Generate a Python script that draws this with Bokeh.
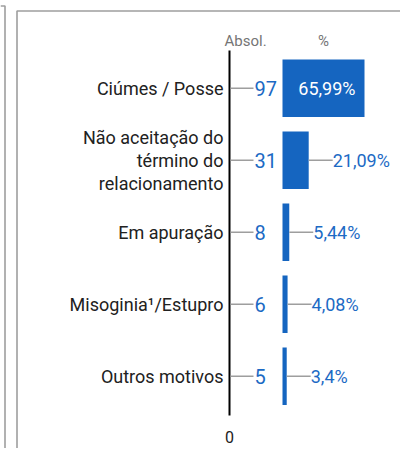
from bokeh.plotting import figure
from bokeh.models import Range1d, ColumnDataSource
from bokeh.core.properties import value
from bokeh.embed import file_html
from bokeh.resources import INLINE

# ---- data ----
categories = ["Ciúmes / Posse", "Não aceitação do\ntérmino do\nrelacionamento",
              "Em apuração", "Misoginia¹/Estupro", "Outros motivos"]
absolute = [97, 31, 8, 6, 5]
percent = [65.99, 21.09, 5.44, 4.08, 3.4]
header_abs = "Absol."
header_pct = "%"
zero_label = "0"

# ---- layout constants (pixels, y measured from top) ----
W, H = 400, 448
FIRST_ROW = 87.8
ROW = 72.0
AXIS_X = 229
TICK_END = 253
ABS_TEXT_X = 254
LABEL_RIGHT = 223
PCT_ZERO = 282
PCT_SCALE = 82 / 65.99       # px per percent unit
LEADER = 24

BLUE = "#1565c0"
TXT_BLUE = "#1c6ac4"
GRAY = "#9e9e9e"
FONT = value("Roboto")

rows = [FIRST_ROW + i * ROW for i in range(len(categories))]

p = figure(width=W, height=H, output_backend="svg", toolbar_location=None,
           x_range=Range1d(0, W), y_range=Range1d(H, 0),
           x_axis_location=None, y_axis_location=None, min_border=0)
p.grid.visible = False
p.outline_line_color = None
p.background_fill_color = "white"
p.border_fill_color = "white"
p.extra_x_ranges = {"pct": Range1d(-PCT_ZERO / PCT_SCALE, (W - PCT_ZERO) / PCT_SCALE)}

# panel frames
p.line(x=[16.5, 16.5, W], y=[H, 10.5, 10.5], line_color=GRAY, line_width=1.6)
p.line(x=[0, 4.5, 4.5], y=[5.5, 5.5, H], line_color=GRAY, line_width=1.6)

# main vertical axis line
p.segment(x0=[AXIS_X], y0=[50], x1=[AXIS_X], y1=[415],
          line_color="black", line_width=2)

src = ColumnDataSource(dict(
    y=rows,
    cat=categories,
    abs_txt=[str(v) for v in absolute],
    pct=percent,
    pct_txt=[("%g" % v).replace(".", ",") + "%" for v in percent],
    x0=[AXIS_X + 1] * len(categories),
    x1=[TICK_END] * len(categories),
    xt=[ABS_TEXT_X] * len(categories),
    xl=[LABEL_RIGHT] * len(categories),
))

# category labels
p.text(x="xl", y="y", text="cat", source=src, text_align="right",
       text_baseline="middle", text_font=FONT, text_font_size="18px",
       text_color="#212121", text_line_height=1.1)

# absolute ticks + values
p.segment(x0="x0", y0="y", x1="x1", y1="y", source=src,
          line_color=GRAY, line_width=1.5)
p.text(x="xt", y="y", text="abs_txt", source=src, text_align="left",
       text_baseline="middle", text_font=FONT, text_font_size="20px",
       text_color=TXT_BLUE)

# percent bars
p.hbar(y="y", left=0, right="pct", height=0.8 * ROW, source=src,
       x_range_name="pct", fill_color=BLUE, line_color=None)

# labels: inside for large bars, outside with leader for small ones
inside = [i for i, v in enumerate(percent) if v > 30]
outside = [i for i, v in enumerate(percent) if v <= 30]
src_in = ColumnDataSource(dict(y=[rows[i] for i in inside],
                               pct=[percent[i] for i in inside],
                               txt=[src.data["pct_txt"][i] for i in inside]))
src_out = ColumnDataSource(dict(y=[rows[i] for i in outside],
                                pct=[percent[i] for i in outside],
                                end=[percent[i] + LEADER / PCT_SCALE for i in outside],
                                txt=[src.data["pct_txt"][i] for i in outside]))
p.text(x="pct", y="y", text="txt", source=src_in, x_range_name="pct",
       x_offset=-9, text_align="right", text_baseline="middle",
       text_font=FONT, text_font_size="18px", text_color="white")
p.segment(x0="pct", y0="y", x1="end", y1="y", source=src_out,
          x_range_name="pct", line_color=GRAY, line_width=1.5)
p.text(x="end", y="y", text="txt", source=src_out, x_range_name="pct",
       text_align="left", text_baseline="middle",
       text_font=FONT, text_font_size="18px", text_color=TXT_BLUE)

# headers
p.text(x=[224], y=[40], text=[header_abs], text_align="left",
       text_baseline="middle", text_font=FONT, text_font_size="15px",
       text_color="#757575")
p.text(x=[323], y=[40], text=[header_pct],
       text_align="center", text_baseline="middle", text_font=FONT,
       text_font_size="15px", text_color="#757575")
# zero label under axis
p.text(x=[AXIS_X], y=[436], text=[zero_label], text_align="center",
       text_baseline="middle", text_font=FONT, text_font_size="16px",
       text_color="#212121")

open("out.html", "w").write(file_html(p, INLINE))
